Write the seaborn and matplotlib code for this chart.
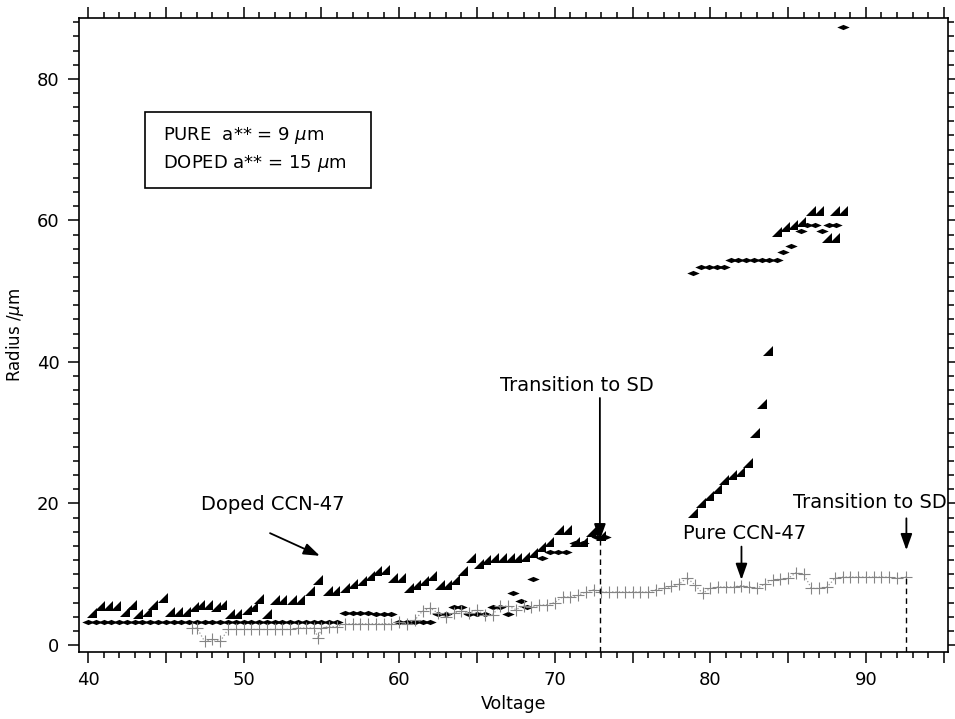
import matplotlib
matplotlib.use("Agg")
import matplotlib.pyplot as plt
from matplotlib.ticker import MultipleLocator, FuncFormatter
from matplotlib.patches import Rectangle
import seaborn as sns
import pandas as pd

# ---------------- data ----------------
doped_tri_v = [40.25, 40.8, 41.3, 41.8, 42.4, 42.8, 43.2, 43.8, 44.2, 44.8, 45.3, 45.8,
               46.3, 46.8, 47.2, 47.7, 48.2, 48.6, 49.1, 49.6, 50.2, 50.6, 51.0, 51.5,
               52.0, 52.5, 53.1, 53.6, 54.3, 54.8, 55.4, 55.9, 56.5, 57.0, 57.6, 58.1,
               58.6, 59.1, 59.6, 60.1, 60.6, 61.1, 61.6, 62.1, 62.6, 63.1, 63.6, 64.1,
               64.6, 65.1, 65.6, 66.1, 66.6, 67.1, 67.6, 68.1, 68.6, 69.1, 69.6, 70.3,
               70.8, 71.3, 71.8, 72.3, 72.6, 73.0,
               78.9, 79.4, 79.9, 80.4, 80.9, 81.4, 81.9, 82.4, 82.9, 83.3, 83.7,
               84.3, 84.8, 85.3, 85.8, 86.5, 87.0, 87.5, 88.0, 88.0, 88.5]
doped_tri_r = [4.5, 5.5, 5.5, 5.5, 4.6, 5.6, 4.4, 4.6, 5.6, 6.6, 4.6, 4.6,
               4.6, 5.3, 5.6, 5.6, 5.3, 5.6, 4.4, 4.4, 4.9, 5.3, 6.5, 4.4,
               6.3, 6.3, 6.3, 6.3, 7.6, 9.2, 7.6, 7.6, 8.0, 8.6, 9.1, 9.8,
               10.5, 10.6, 9.5, 9.5, 8.0, 8.5, 9.0, 9.8, 8.5, 8.5, 9.2, 10.5,
               12.3, 11.5, 12.0, 12.3, 12.3, 12.3, 12.3, 12.5, 13.0, 13.8, 14.5, 16.3,
               16.3, 14.6, 14.6, 16.0, 16.3, 15.4,
               18.6, 20.0, 21.0, 22.0, 23.3, 24.0, 24.5, 25.7, 30.0, 34.0, 41.5,
               58.3, 59.0, 59.3, 59.8, 61.3, 61.3, 57.5, 57.5, 61.3, 61.3]

doped_dia_v = [40.0, 40.5, 41.0, 41.5, 42.0, 42.5, 43.0, 43.5, 44.0, 44.5, 45.0, 45.5,
               46.0, 46.5, 47.0, 47.5, 48.0, 48.5, 49.0, 49.5, 50.0, 50.5, 51.0, 51.5,
               52.0, 52.5, 53.0, 53.5, 54.0, 54.5, 55.0, 55.5, 56.0,
               56.5, 57.0, 57.5, 58.0, 58.5, 59.0, 59.5, 60.0, 60.5, 61.0, 61.5, 62.0,
               62.5, 63.0, 63.5, 64.0, 64.5, 65.0, 65.5, 66.0, 66.5, 67.0, 67.3, 67.8,
               68.2, 68.6, 69.2, 69.7, 70.2, 70.7, 71.3, 71.8, 72.7, 73.2,
               78.9, 79.4, 79.9, 80.4, 80.9, 81.3, 81.8, 82.3, 82.8, 83.3, 83.8, 84.3,
               84.7, 85.2, 85.8, 86.2, 86.7, 87.2, 87.6, 88.1, 88.5]
doped_dia_r = [3.2, 3.2, 3.2, 3.2, 3.2, 3.2, 3.2, 3.2, 3.2, 3.2, 3.2, 3.2,
               3.2, 3.2, 3.2, 3.2, 3.2, 3.2, 3.2, 3.2, 3.2, 3.2, 3.2, 3.2,
               3.2, 3.2, 3.2, 3.2, 3.2, 3.2, 3.2, 3.2, 3.2,
               4.5, 4.5, 4.5, 4.5, 4.4, 4.4, 4.4, 3.2, 3.2, 3.2, 3.2, 3.2,
               4.4, 4.4, 5.4, 5.4, 4.4, 4.4, 4.4, 5.4, 5.4, 4.4, 7.4, 6.2,
               5.4, 9.3, 12.3, 13.1, 13.1, 13.1, 14.4, 14.4, 15.2, 15.2,
               52.5, 53.4, 53.4, 53.4, 53.4, 54.4, 54.4, 54.4, 54.4, 54.4, 54.4, 54.4,
               55.5, 56.4, 58.5, 59.4, 59.4, 58.5, 59.4, 59.4, 87.3]

pure_v = [46.7, 47.0, 47.5, 48.0, 48.5, 49.0, 49.5, 50.0, 50.5, 51.0, 51.5, 52.0, 52.5,
          53.0, 53.5, 54.0, 54.5, 54.8, 55.0, 55.5, 56.0, 56.5, 57.0, 57.5, 58.0, 58.5,
          59.0, 59.5, 60.0, 60.5, 61.0, 61.5, 62.0, 62.5, 63.0, 63.5, 64.0, 64.5, 65.0,
          65.5, 66.0, 66.5, 67.0, 67.5, 68.0, 68.5, 69.0, 69.5, 70.0, 70.5, 71.0, 71.5,
          72.0, 72.5, 73.0, 73.5, 74.0, 74.5, 75.0, 75.5, 76.0, 76.5, 77.0, 77.5, 78.0,
          78.5, 79.0, 79.5, 80.0, 80.5, 81.0, 81.5, 82.0, 82.5, 83.0, 83.5, 84.0, 84.5,
          85.0, 85.5, 86.0, 86.5, 87.0, 87.5, 88.0, 88.5, 89.0, 89.5, 90.0, 90.5, 91.0,
          91.5, 92.0, 92.6]
pure_r = [2.4, 2.4, 0.5, 0.8, 0.5, 2.2, 2.2, 2.2, 2.2, 2.2, 2.2, 2.2, 2.2,
          2.2, 2.4, 2.4, 2.4, 1.0, 2.4, 2.6, 2.6, 3.0, 3.0, 3.0, 3.0, 3.0,
          3.0, 3.0, 3.2, 3.0, 3.5, 4.8, 5.2, 4.5, 4.0, 4.5, 4.8, 4.5, 5.0,
          4.2, 4.3, 5.5, 5.5, 5.0, 5.5, 5.3, 5.6, 5.7, 6.0, 6.8, 6.8, 7.0,
          7.5, 7.8, 7.5, 7.5, 7.5, 7.5, 7.5, 7.5, 7.5, 7.8, 8.0, 8.3, 8.6,
          9.5, 8.5, 7.3, 8.0, 8.2, 8.2, 8.2, 8.4, 8.2, 8.0, 8.6, 9.2, 9.3,
          9.4, 10.2, 10.0, 8.0, 8.0, 8.2, 9.4, 9.6, 9.6, 9.6, 9.6, 9.6, 9.6,
          9.6, 9.4, 9.6]

transition_v = [72.9, 92.6]
transition_top = [15.0, 9.6]

x_ticks_labeled = [40, 50, 60, 70, 80, 90]
y_ticks_labeled = [0, 20, 40, 60, 80]

# ---------------- figure ----------------
sns.set_style("ticks")
plt.rcParams["font.family"] = ["DejaVu Sans"]
plt.rcParams["mathtext.fontset"] = "dejavusans"
for key in ["text.color", "axes.labelcolor", "xtick.color", "ytick.color",
            "axes.edgecolor"]:
    plt.rcParams[key] = "black"

fig = plt.figure(figsize=(9.55, 7.19), dpi=100)
ax = fig.add_axes([0.0827, 0.0932, 0.9099, 0.8818])

tri_marker = [(-1, -1), (1, -1), (1, 1)]
dia_marker = [(-1, 0), (0, 0.42), (1, 0), (0, -0.42)]

df_pure = pd.DataFrame({"Voltage": pure_v, "Radius": pure_r})
sns.lineplot(data=df_pure, x="Voltage", y="Radius", ax=ax, color="#9a9a9a",
             linestyle=":", linewidth=0.9, marker="+", markersize=9,
             markeredgewidth=0.8, markeredgecolor="#858585",
             estimator=None, sort=False)

df_tri = pd.DataFrame({"Voltage": doped_tri_v, "Radius": doped_tri_r})
sns.scatterplot(data=df_tri, x="Voltage", y="Radius", ax=ax, marker=tri_marker,
                s=60, color="black", linewidth=0)

df_dia = pd.DataFrame({"Voltage": doped_dia_v, "Radius": doped_dia_r})
sns.scatterplot(data=df_dia, x="Voltage", y="Radius", ax=ax, marker=dia_marker,
                s=80, color="black", linewidth=0)

ax.set_xlim(39.42, 95.27)
ax.set_ylim(-0.99, 88.6)

# dashed transition lines
ax.vlines(transition_v, -0.99, transition_top, colors="black",
          linestyles=(0, (4, 3)), linewidth=1.0)

# ticks
ax.xaxis.set_major_locator(MultipleLocator(5))
ax.xaxis.set_minor_locator(MultipleLocator(1))
ax.xaxis.set_major_formatter(FuncFormatter(
    lambda v, p: f"{int(round(v))}" if int(round(v)) in x_ticks_labeled else ""))
ax.yaxis.set_major_locator(MultipleLocator(20))
ax.yaxis.set_minor_locator(MultipleLocator(2))
ax.yaxis.set_major_formatter(FuncFormatter(
    lambda v, p: f"{int(round(v))}" if int(round(v)) in y_ticks_labeled else ""))
ax.tick_params(which="both", direction="out", top=True, right=True,
               labeltop=False, labelright=False, width=1.1, color="black",
               labelcolor="black")
ax.tick_params(which="major", length=8, labelsize=13, pad=6)
ax.tick_params(which="minor", length=4)
for s in ax.spines.values():
    s.set_linewidth(1.2)
    s.set_color("black")

ax.set_xlabel("Voltage", fontsize=12.5, labelpad=4, color="black")
ax.set_ylabel(r"Radius /$\mu$m", fontsize=12, labelpad=8, color="black")

# legend-like box
ax.add_patch(Rectangle((0.076, 0.732), 0.26, 0.12, transform=ax.transAxes,
                       fill=False, edgecolor="black", linewidth=1.2))
ax.text(0.097, 0.815, r"PURE  a** = 9 $\mu$m", transform=ax.transAxes,
        fontsize=13, ha="left", va="center", color="black")
ax.text(0.097, 0.770, r"DOPED a** = 15 $\mu$m", transform=ax.transAxes,
        fontsize=13, ha="left", va="center", color="black")

# annotations
arrow = dict(arrowstyle="-|>,head_length=0.7,head_width=0.25", color="black",
             lw=1.3, mutation_scale=14, shrinkA=0, shrinkB=0)
ax.text(51.9, 19.8, "Doped CCN-47", fontsize=14, ha="center", va="center", color="black")
ax.annotate("", xy=(54.9, 12.6), xytext=(51.7, 15.8), arrowprops=arrow)

ax.text(71.4, 36.6, "Transition to SD", fontsize=14, ha="center", va="center", color="black")
ax.annotate("", xy=(72.9, 14.8), xytext=(72.9, 34.9), arrowprops=arrow)

ax.text(82.2, 15.8, "Pure CCN-47", fontsize=14, ha="center", va="center", color="black")
ax.annotate("", xy=(82.0, 9.2), xytext=(82.0, 13.9), arrowprops=arrow)

ax.text(95.2, 20.1, "Transition to SD", fontsize=14, ha="right", va="center", color="black")
ax.annotate("", xy=(92.6, 13.4), xytext=(92.6, 17.9), arrowprops=arrow)

fig.savefig("out.png", dpi=100)
